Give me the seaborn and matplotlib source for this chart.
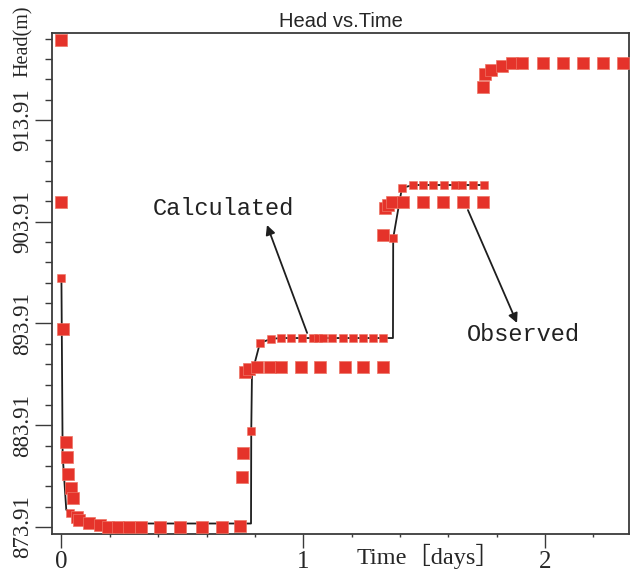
import numpy as np
import pandas as pd
import matplotlib
matplotlib.use("Agg")
import matplotlib.pyplot as plt
from matplotlib.ticker import FixedLocator, MultipleLocator, FormatStrFormatter
import seaborn as sns

# observed heads (big squares)
obs_t = [0.000, 0.000, 0.006, 0.019, 0.022, 0.027, 0.039, 0.046, 0.064, 0.072,
         0.114, 0.159, 0.192, 0.234, 0.279, 0.329, 0.408, 0.490, 0.581, 0.664,
         0.738, 0.746, 0.751,
         0.760, 0.776, 0.809, 0.862, 0.907, 0.990, 1.069, 1.173, 1.248, 1.330,
         1.331, 1.338, 1.351, 1.367, 1.413, 1.496, 1.578, 1.661, 1.744,
         1.744, 1.752, 1.777, 1.822, 1.864, 1.905, 1.992, 2.074, 2.157, 2.240, 2.323]
obs_h = [921.80, 905.87, 893.38, 882.26, 880.80, 879.10, 877.70, 876.80, 874.90, 874.60,
         874.30, 874.10, 873.91, 873.91, 873.91, 873.91, 873.91, 873.91, 873.91, 873.91,
         874.00, 878.80, 881.20,
         889.15, 889.44, 889.64, 889.64, 889.64, 889.64, 889.64, 889.64, 889.64, 889.64,
         902.61, 905.26, 905.56, 905.85, 905.85, 905.85, 905.85, 905.85, 905.85,
         917.15, 918.43, 918.82, 919.22, 919.51, 919.51, 919.51, 919.51, 919.51, 919.51, 919.51]

# calculated heads (line + small squares); flag = drawn with a marker
calc_t = [0.000, 0.005, 0.020, 0.036, 0.080, 0.120, 0.784,
          0.785, 0.788, 0.821, 0.867, 0.908, 0.949, 0.995, 1.040, 1.061, 1.082,
          1.119, 1.164, 1.206, 1.247, 1.288, 1.330, 1.371,
          1.372, 1.408, 1.454, 1.496, 1.537, 1.582, 1.628, 1.657, 1.702, 1.748]
calc_h = [898.38, 881.00, 875.60, 875.30, 874.40, 874.25, 874.25,
          883.35, 889.00, 892.00, 892.40, 892.48, 892.48, 892.48, 892.48, 892.48, 892.48,
          892.48, 892.48, 892.48, 892.48, 892.48, 892.48, 892.48,
          902.31, 907.23, 907.52, 907.52, 907.52, 907.52, 907.52, 907.52, 907.52, 907.52]
calc_mark = [1, 0, 0, 1, 0, 0, 0,
             1, 0, 1, 1, 1, 1, 1, 1, 1, 1,
             1, 1, 1, 1, 1, 1, 0,
             1, 1, 1, 1, 1, 1, 1, 1, 1, 1]

y_major = [873.91, 883.91, 893.91, 903.91, 913.91]
x_major = [0, 1, 2]

obs = pd.DataFrame({"t": obs_t, "h": obs_h})
calc = pd.DataFrame({"t": calc_t, "h": calc_h, "mark": calc_mark})

sns.set_style("ticks")
plt.rcParams["font.family"] = ["Liberation Serif", "Noto Sans CJK SC"]

red = "#e5332a"
dark = "#3a3a3a"

fig = plt.figure(figsize=(6.31, 5.74), dpi=100)
ax = fig.add_axes([0.0824, 0.0697, 0.9144, 0.8728])

sns.lineplot(data=calc, x="t", y="h", sort=False, estimator=None,
             color="#1e1e1e", lw=1.3, ax=ax, zorder=2)
sns.scatterplot(data=calc[calc["mark"] == 1], x="t", y="h", marker="s", s=26,
                color=red, edgecolor="#ee7565", linewidth=0.4, ax=ax, zorder=3)
sns.scatterplot(data=obs, x="t", y="h", marker="s", s=84,
                color=red, edgecolor="#ee7565", linewidth=0.5, ax=ax, zorder=4)

ax.set_xlim(-0.039, 2.347)
ax.set_ylim(873.22, 922.46)

ax.xaxis.set_major_locator(FixedLocator(x_major))
ax.xaxis.set_minor_locator(MultipleLocator(0.2))
ax.yaxis.set_major_locator(FixedLocator(y_major))
ax.yaxis.set_minor_locator(FixedLocator(np.arange(873.91, 922.4, 2)))
ax.yaxis.set_major_formatter(FormatStrFormatter("%.2f"))

ax.tick_params(axis="y", which="major", length=12, width=1, color=dark,
               labelsize=16.5, pad=1.5)
ax.tick_params(axis="y", which="minor", length=5, width=1, color=dark)
ax.tick_params(axis="x", which="major", length=10, width=1, color=dark,
               labelsize=18, pad=2)
ax.tick_params(axis="x", which="minor", length=2.5, width=1, color=dark)
for lab in ax.get_yticklabels():
    lab.set_rotation(90)
    lab.set_va("center")

for sp in ax.spines.values():
    sp.set_visible(True)
    sp.set_color(dark)
    sp.set_linewidth(1.3)

ax.set_title("Head vs.Time", fontfamily="Liberation Sans", fontsize=14.5, pad=4)
ax.set_ylabel("Head(m)", fontsize=14.5)
ax.yaxis.set_label_coords(-0.033, 0.984)
ax.set_xlabel("Time［days］", fontsize=17.5)
ax.xaxis.set_label_coords(0.652, -0.02)

ax.annotate("", xy=(0.850, 903.59), xytext=(1.016, 892.98),
            arrowprops=dict(arrowstyle="-|>", color="#1e1e1e", lw=1.3,
                            mutation_scale=14, shrinkA=0, shrinkB=0))
ax.annotate("", xy=(1.884, 893.96), xytext=(1.681, 905.06),
            arrowprops=dict(arrowstyle="-|>", color="#1e1e1e", lw=1.3,
                            mutation_scale=14, shrinkA=0, shrinkB=0))
ax.text(0.668, 905.26, "Calculated", fontfamily="Liberation Mono", fontsize=17,
        ha="center", va="center", color="#222")
ax.text(1.909, 892.78, "Observed", fontfamily="Liberation Mono", fontsize=17,
        ha="center", va="center", color="#222")

fig.savefig("out.png", dpi=100)
